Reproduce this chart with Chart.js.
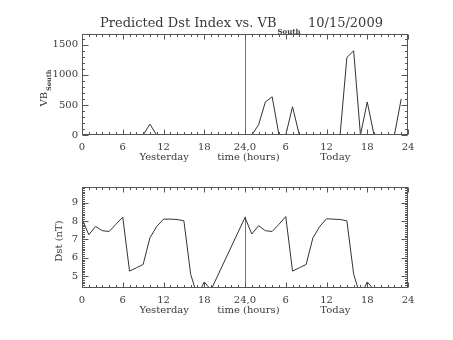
<!DOCTYPE html>
<html>
<head>
<meta charset="utf-8">
<script src="https://cdn.jsdelivr.net/npm/chart.js@4.4.1/dist/chart.umd.min.js"></script>
<style>
body { margin: 0; background: #fff; width: 453px; height: 340px; overflow: hidden; position: relative; }
canvas { position: absolute; left: 0; }
#vb { top: 0; }
#dst { top: 170px; }
</style>
</head>
<body>
<canvas id="vb" width="453" height="170"></canvas>
<canvas id="dst" width="453" height="170"></canvas>
<script>
// hours 0-23 are yesterday, 24-47 are today
var vbHours = [0,1,2,3,4,5,6,7,8,9,10,11,12,13,14,15,16,17,18,19,20,21,22,23,
               24,25,26,27,28,29,30,31,32,33,34,35,36,37,38,39,40,41,42,43,44,45,46,47];
var vbSouth = [0,0,0,0,0,0,0,0,0,0,180,0,0,0,0,0,0,0,0,0,0,0,0,0,
               0,0,170,550,635,0,0,470,0,0,0,0,0,0,0,1290,1400,0,550,0,0,0,0,600];

var dstHours = [0,1,2,3,4,5,6,7,8,9,10,11,12,13,14,15,16,17,18,19,
                24,25,26,27,28,29,30,31,32,33,34,35,36,37,38,39,40,41,42,43];
var dst = [8.12,7.25,7.70,7.47,7.43,7.82,8.21,5.27,5.45,5.63,7.08,7.70,8.10,8.10,8.08,8.01,5.10,3.90,4.68,4.25,
           8.19,7.29,7.74,7.47,7.43,7.82,8.24,5.27,5.45,5.63,7.08,7.70,8.12,8.10,8.08,8.01,5.10,3.90,4.68,4.25];

var hourTicks = [0,6,12,18,24,30,36,42,48];
var hourLabels = ['0','6','12','18','24,0','6','12','18','24'];
var vbTicks = [0,500,1000,1500];
var dstTicks = [5,6,7,8,9];
var dayLabels = ['Yesterday','time (hours)','Today'];
var dayLabelHours = [12.1,24.5,37.3];
var dayBreak = 24;

var FONT = "'DejaVu Serif', serif";
var INK = '#3a3a3a';
var FRAME = '#555';

function points(xs, ys) {
  var out = [];
  for (var i in xs) out.push({x: xs[i], y: ys[i]});
  return out;
}

// IDL style box: ticks pointing inwards on all four sides
function drawFrame(chart, yMinorStep, yMajors) {
  var a = chart.chartArea, xs = chart.scales.x, ys = chart.scales.y, ctx = chart.ctx;
  var L = Math.round(a.left) + 0.5, R = Math.round(a.right) - 0.5;
  var T = Math.round(a.top) + 0.5, B = Math.round(a.bottom) - 0.5;
  ctx.save();
  ctx.strokeStyle = FRAME;
  ctx.lineWidth = 1;
  ctx.strokeRect(L, T, R - L, B - T);
  ctx.beginPath();
  for (var h = xs.min; h <= xs.max; h++) {
    var px = Math.round(xs.getPixelForValue(h)) + 0.5;
    var len = (h % 6 === 0) ? 5 : 2.5;
    ctx.moveTo(px, B); ctx.lineTo(px, B - len);
    ctx.moveTo(px, T); ctx.lineTo(px, T + len);
  }
  var start = Math.ceil(ys.min / yMinorStep - 1e-6);
  for (var k = start; k * yMinorStep <= ys.max + 1e-9; k++) {
    var v = k * yMinorStep;
    var major = yMajors.some(function(m) { return Math.abs(m - v) < 1e-6; });
    var py = Math.round(ys.getPixelForValue(v)) + 0.5;
    var l2 = major ? 6 : 2.5;
    ctx.moveTo(L, py); ctx.lineTo(L + l2, py);
    ctx.moveTo(R, py); ctx.lineTo(R - l2, py);
  }
  ctx.stroke();
  ctx.restore();
}

function drawDayLabels(chart, y) {
  var ctx = chart.ctx, xs = chart.scales.x;
  ctx.save();
  ctx.fillStyle = INK;
  ctx.font = '10px ' + FONT;
  ctx.textAlign = 'center';
  ctx.textBaseline = 'middle';
  for (var i in dayLabels) ctx.fillText(dayLabels[i], xs.getPixelForValue(dayLabelHours[i]), y);
  ctx.restore();
}

function dayBreakLine(chart, topValue) {
  var ctx = chart.ctx, xs = chart.scales.x, ys = chart.scales.y;
  var px = Math.round(xs.getPixelForValue(dayBreak)) + 0.5;
  ctx.save();
  ctx.strokeStyle = '#777';
  ctx.lineWidth = 1;
  ctx.beginPath();
  ctx.moveTo(px, ys.getPixelForValue(ys.min));
  ctx.lineTo(px, ys.getPixelForValue(topValue));
  ctx.stroke();
  ctx.restore();
}

function xAxis(height) {
  return {
    type: 'linear', min: 0, max: 48,
    grid: { display: false, drawTicks: false },
    border: { display: false },
    afterFit: function(s) { s.height = height; },
    afterBuildTicks: function(s) { s.ticks = hourTicks.map(function(v) { return {value: v}; }); },
    ticks: {
      padding: 6, maxRotation: 0, autoSkip: false, color: INK,
      font: { family: FONT, size: 10 },
      callback: function(v) { return hourLabels[hourTicks.indexOf(v)]; }
    }
  };
}

function yAxis(min, max, tickValues) {
  return {
    min: min, max: max,
    grid: { display: false, drawTicks: false },
    border: { display: false },
    afterFit: function(s) { s.width = 82; },
    afterBuildTicks: function(s) { s.ticks = tickValues.map(function(v) { return {value: v}; }); },
    ticks: {
      padding: 4, color: INK, font: { family: FONT, size: 10 },
      callback: function(v) { return String(v); }
    }
  };
}

var lineStyle = { borderColor: '#333', borderWidth: 1, pointRadius: 0, tension: 0, fill: false };

new Chart(document.getElementById('vb'), {
  type: 'line',
  data: { datasets: [Object.assign({ data: points(vbHours, vbSouth) }, lineStyle)] },
  options: {
    responsive: false, animation: false, devicePixelRatio: 1,
    layout: { padding: { top: 34, right: 45, left: 0, bottom: 0 } },
    plugins: { legend: { display: false }, tooltip: { enabled: false } },
    scales: {
      x: xAxis(35),
      y: yAxis(0, 1680, vbTicks)
    }
  },
  plugins: [{
    id: 'vbDecor',
    beforeDatasetsDraw: function(chart) { dayBreakLine(chart, chart.scales.y.max); },
    afterDraw: function(chart) {
      drawFrame(chart, 100, vbTicks);
      drawDayLabels(chart, 157);
      var ctx = chart.ctx;
      ctx.save();
      ctx.fillStyle = INK;
      ctx.textBaseline = 'middle';
      ctx.font = '13px ' + FONT;
      ctx.fillText('Predicted Dst Index vs. VB', 100, 24);
      var w = ctx.measureText('Predicted Dst Index vs. VB').width;
      ctx.font = 'bold 7px ' + FONT;
      ctx.fillText('South', 100 + w + 1, 32);
      ctx.font = '13px ' + FONT;
      ctx.fillText('10/15/2009', 308, 24);
      // rotated axis title with subscript
      ctx.translate(45, 88);
      ctx.rotate(-Math.PI / 2);
      ctx.font = '10px ' + FONT;
      var vw = ctx.measureText('VB').width;
      ctx.font = 'bold 6.5px ' + FONT;
      var sw = ctx.measureText('South').width;
      var x0 = -(vw + sw + 1) / 2;
      ctx.font = '10px ' + FONT;
      ctx.fillText('VB', x0, -1);
      ctx.font = 'bold 6.5px ' + FONT;
      ctx.fillText('South', x0 + vw + 1, 4);
      ctx.restore();
    }
  }]
});

new Chart(document.getElementById('dst'), {
  type: 'line',
  data: { datasets: [Object.assign({ data: points(dstHours, dst) }, lineStyle)] },
  options: {
    responsive: false, animation: false, devicePixelRatio: 1,
    layout: { padding: { top: 17, right: 45, left: 0, bottom: 0 } },
    plugins: { legend: { display: false }, tooltip: { enabled: false } },
    scales: {
      x: xAxis(52),
      y: yAxis(4.35, 9.85, dstTicks)
    }
  },
  plugins: [{
    id: 'dstDecor',
    beforeDatasetsDraw: function(chart) { dayBreakLine(chart, Math.max.apply(null, dst)); },
    afterDraw: function(chart) {
      drawFrame(chart, 0.1, dstTicks);
      drawDayLabels(chart, 140);
      var ctx = chart.ctx;
      ctx.save();
      ctx.fillStyle = INK;
      ctx.font = '10px ' + FONT;
      ctx.textAlign = 'center';
      ctx.textBaseline = 'middle';
      ctx.translate(59, 71);
      ctx.rotate(-Math.PI / 2);
      ctx.fillText('Dst (nT)', 0, 0);
      ctx.restore();
    }
  }]
});
</script>
</body>
</html>
